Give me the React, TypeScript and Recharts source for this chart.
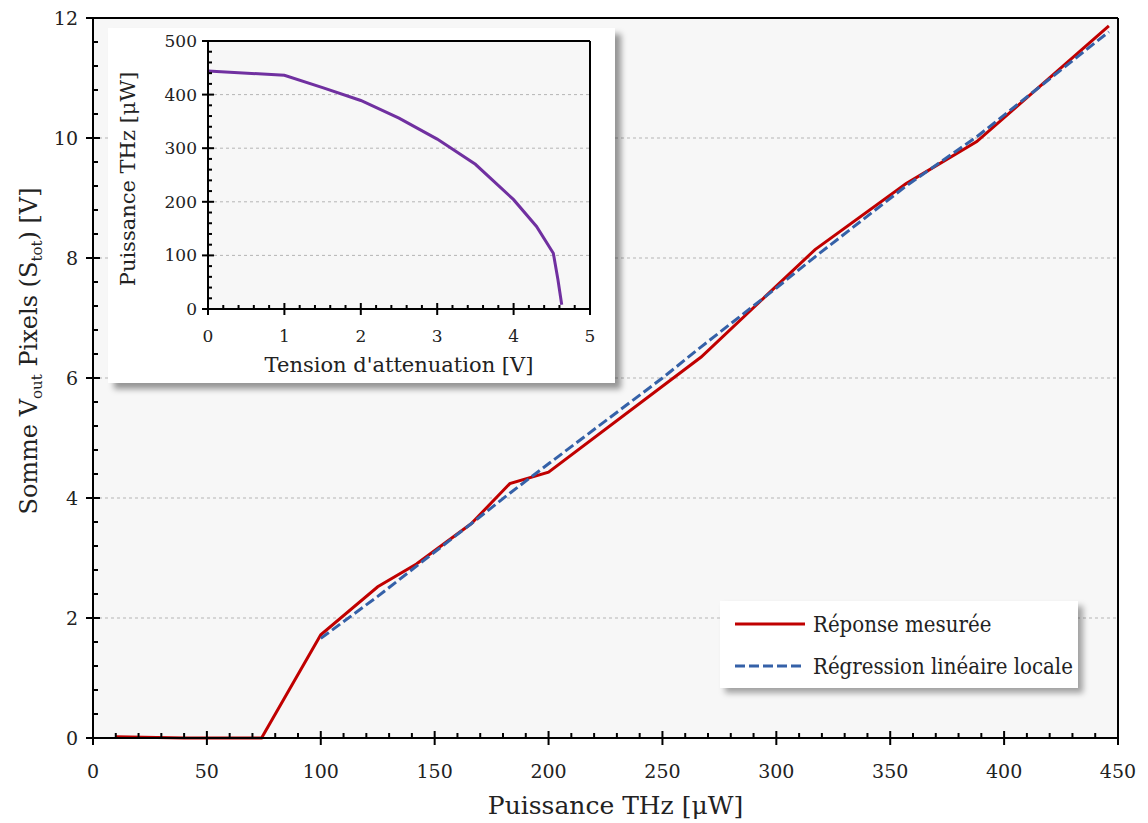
import React from 'react';
import { LineChart, Line, XAxis, YAxis, CartesianGrid, ReferenceLine, Legend } from 'recharts';

const FONT = '"DejaVu Serif", "Liberation Serif", serif';

// main chart: summed pixel output vs THz power
const measuredPower = [10, 40, 74, 100, 125, 142, 166, 183, 200, 267, 317, 357, 388, 446];
const measuredSum = [0.02, 0.0, 0.0, 1.72, 2.52, 2.9, 3.57, 4.24, 4.43, 6.35, 8.14, 9.24, 9.94, 11.87];
const fitPower = [100, 125, 150, 167, 183, 200, 250, 267, 300, 317, 357, 388, 446];
const fitSum = [1.66, 2.36, 3.1, 3.6, 4.08, 4.57, 6.0, 6.52, 7.5, 8.02, 9.2, 10.02, 11.77];

// inset: THz power vs attenuation voltage
const attenVoltage = [0, 1, 1.5, 2, 2.5, 3, 3.5, 4, 4.3, 4.52, 4.58, 4.63];
const attenPower = [444, 436, 413, 389, 356, 317, 270, 204, 154, 104, 55, 8];

const mainXTicks = [0, 50, 100, 150, 200, 250, 300, 350, 400, 450];
const mainYTicks = [0, 2, 4, 6, 8, 10, 12];
const mainGrid = [2, 4, 6, 8, 10];
const insetXTicks = [0, 1, 2, 3, 4, 5];
const insetYTicks = [0, 100, 200, 300, 400, 500];
const insetGrid = [100, 200, 300, 400];

const measured = measuredPower.map((x, i) => ({ x, y: measuredSum[i] }));
const fit = fitPower.map((x, i) => ({ x, y: fitSum[i] }));
const atten = attenVoltage.map((x, i) => ({ x, y: attenPower[i] }));

// majors plus 4 minor ticks between each pair
const withMinor = (major: number[]) => {
  const out: number[] = [];
  for (let i = 0; i < major.length - 1; i++) {
    const step = (major[i + 1] - major[i]) / 5;
    for (let k = 0; k < 5; k++) out.push(major[i] + k * step);
  }
  out.push(major[major.length - 1]);
  return out;
};
const isMajor = (v: number, majors: number[]) => majors.some((m) => Math.abs(m - v) < 1e-6);

const BottomTick = (props: any) => {
  const { x, y, payload, majors, big, small, gap, fontSize } = props;
  const v = payload.value;
  const major = isMajor(v, majors);
  return (
    <g>
      {major ? (
        <line x1={x} x2={x} y1={y - big} y2={y + big} stroke="#000" strokeWidth={2} />
      ) : (
        <line x1={x} x2={x} y1={y} y2={y - small} stroke="#000" strokeWidth={2} />
      )}
      {major && (
        <text x={x} y={y + gap} dy="0.35em" textAnchor="middle" fontSize={fontSize} fill="#222" fontFamily={FONT}>
          {Math.round(v)}
        </text>
      )}
    </g>
  );
};

const LeftTick = (props: any) => {
  const { x, y, payload, majors, big, small, gap, fontSize } = props;
  const v = payload.value;
  const major = isMajor(v, majors);
  return (
    <g>
      {major ? (
        <line x1={x - big} x2={x + big} y1={y} y2={y} stroke="#000" strokeWidth={2} />
      ) : (
        <line x1={x} x2={x + small} y1={y} y2={y} stroke="#000" strokeWidth={2} />
      )}
      {major && (
        <text x={x - gap} y={y} dy="0.35em" textAnchor="end" fontSize={fontSize} fill="#222" fontFamily={FONT}>
          {Math.round(v)}
        </text>
      )}
    </g>
  );
};

const MainXTitle = (props: any) => {
  const { viewBox } = props;
  return (
    <text x={viewBox.x + viewBox.width / 2 + 10} y={viewBox.y + 67} dy="0.35em" textAnchor="middle" fontSize={25} fill="#222" fontFamily={FONT}>
      Puissance THz [μW]
    </text>
  );
};

const MainYTitle = (props: any) => {
  const { viewBox } = props;
  const cx = viewBox.x + 16;
  const cy = viewBox.y + viewBox.height / 2 - 27;
  return (
    <text x={cx} y={cy} dy="0.35em" transform={`rotate(-90, ${cx}, ${cy})`} textAnchor="middle" fontSize={24} fill="#222" fontFamily={FONT}>
      Somme V<tspan dy={5} fontSize={15}>out</tspan>
      <tspan dy={-5}> Pixels (S</tspan>
      <tspan dy={5} fontSize={15}>tot</tspan>
      <tspan dy={-5}>) [V]</tspan>
    </text>
  );
};

const InsetXTitle = (props: any) => {
  const { viewBox } = props;
  return (
    <text x={viewBox.x + viewBox.width / 2} y={viewBox.y + 56} dy="0.35em" textAnchor="middle" fontSize={21} fill="#222" fontFamily={FONT}>
      Tension d'attenuation [V]
    </text>
  );
};

const InsetYTitle = (props: any) => {
  const { viewBox } = props;
  const cx = viewBox.x - 20;
  const cy = viewBox.y + viewBox.height / 2 + 4;
  return (
    <text x={cx} y={cy} dy="0.35em" transform={`rotate(-90, ${cx}, ${cy})`} textAnchor="middle" fontSize={21} fill="#222" fontFamily={FONT}>
      Puissance THz [μW]
    </text>
  );
};

const LegendBox = () => (
  <div
    style={{
      background: '#fff',
      width: 358,
      height: 87,
      boxShadow: '5px 5px 6px rgba(0,0,0,0.35)',
      fontFamily: FONT,
      fontSize: 22,
      fontStretch: 'condensed',
      color: '#222',
      boxSizing: 'border-box',
      paddingLeft: 15,
      paddingTop: 2,
      whiteSpace: 'nowrap',
    }}
  >
    <div style={{ display: 'flex', alignItems: 'center', height: 42 }}>
      <svg width={72} height={10}>
        <line x1={0} x2={70} y1={5} y2={5} stroke="#c00000" strokeWidth={3} />
      </svg>
      <span style={{ marginLeft: 6 }}>Réponse mesurée</span>
    </div>
    <div style={{ display: 'flex', alignItems: 'center', height: 42 }}>
      <svg width={72} height={10}>
        <line x1={0} x2={70} y1={5} y2={5} stroke="#3561a8" strokeWidth={3} strokeDasharray="10 4" />
      </svg>
      <span style={{ marginLeft: 6 }}>Régression linéaire locale</span>
    </div>
  </div>
);

const App = () => {
  return (
    <div style={{ position: 'absolute', left: 0, top: 0, width: 1148, height: 823, background: '#fff', fontFamily: FONT }}>
      <LineChart width={1148} height={823} margin={{ top: 18, right: 30, bottom: 25, left: 13 }}>
        <CartesianGrid fill="#f7f7f7" vertical={false} horizontalValues={mainGrid} stroke="#b5b5b5" strokeDasharray="3 3" />
        <XAxis
          type="number"
          dataKey="x"
          domain={[0, 450]}
          ticks={withMinor(mainXTicks)}
          interval={0}
          height={60}
          tickSize={0}
          tickMargin={0}
          tickLine={false}
          axisLine={{ stroke: '#000', strokeWidth: 2 }}
          tick={(p: any) => <BottomTick {...p} majors={mainXTicks} big={7} small={5} gap={33} fontSize={19} />}
          label={<MainXTitle />}
        />
        <YAxis
          type="number"
          dataKey="y"
          domain={[0, 12]}
          ticks={withMinor(mainYTicks)}
          interval={0}
          width={80}
          tickSize={0}
          tickMargin={0}
          tickLine={false}
          axisLine={{ stroke: '#000', strokeWidth: 2 }}
          tick={(p: any) => <LeftTick {...p} majors={mainYTicks} big={7} small={5} gap={15} fontSize={19} />}
          label={<MainYTitle />}
        />
        <ReferenceLine x={450} stroke="#000" strokeWidth={2} />
        <ReferenceLine y={12} stroke="#000" strokeWidth={2} />
        <Line data={measured} dataKey="y" name="Réponse mesurée" type="linear" stroke="#c00000" strokeWidth={3} dot={false} isAnimationActive={false} />
        <Line data={fit} dataKey="y" name="Régression linéaire locale" type="linear" stroke="#3561a8" strokeWidth={3} strokeDasharray="10 4" dot={false} isAnimationActive={false} />
        <Legend
          layout="vertical"
          align="center"
          verticalAlign="middle"
          content={() => <LegendBox />}
          wrapperStyle={{ position: 'absolute', left: 720, top: 601, width: 358, height: 87 }}
        />
      </LineChart>

      <div
        style={{
          position: 'absolute',
          left: 108,
          top: 28,
          width: 507,
          height: 355,
          background: '#fff',
          boxShadow: '6px 6px 6px rgba(0,0,0,0.4)',
        }}
      >
        <LineChart width={507} height={355} margin={{ top: 13, right: 25, bottom: 24, left: 40 }}>
          <CartesianGrid fill="#f7f7f7" vertical={false} horizontalValues={insetGrid} stroke="#b5b5b5" strokeDasharray="3 3" />
          <XAxis
            type="number"
            dataKey="x"
            domain={[0, 5]}
            ticks={withMinor(insetXTicks)}
            interval={0}
            height={50}
            tickSize={0}
            tickMargin={0}
            tickLine={false}
            axisLine={{ stroke: '#000', strokeWidth: 2 }}
            tick={(p: any) => <BottomTick {...p} majors={insetXTicks} big={6} small={4} gap={27} fontSize={17} />}
            label={<InsetXTitle />}
          />
          <YAxis
            type="number"
            dataKey="y"
            domain={[0, 500]}
            ticks={withMinor(insetYTicks)}
            interval={0}
            width={60}
            tickSize={0}
            tickMargin={0}
            tickLine={false}
            axisLine={{ stroke: '#000', strokeWidth: 2 }}
            tick={(p: any) => <LeftTick {...p} majors={insetYTicks} big={6} small={4} gap={11} fontSize={17} />}
            label={<InsetYTitle />}
          />
          <ReferenceLine x={5} stroke="#000" strokeWidth={2} />
          <ReferenceLine y={500} stroke="#000" strokeWidth={2} />
          <Line data={atten} dataKey="y" type="linear" stroke="#7030a0" strokeWidth={3} dot={false} isAnimationActive={false} />
        </LineChart>
      </div>
    </div>
  );
};

export default App;
